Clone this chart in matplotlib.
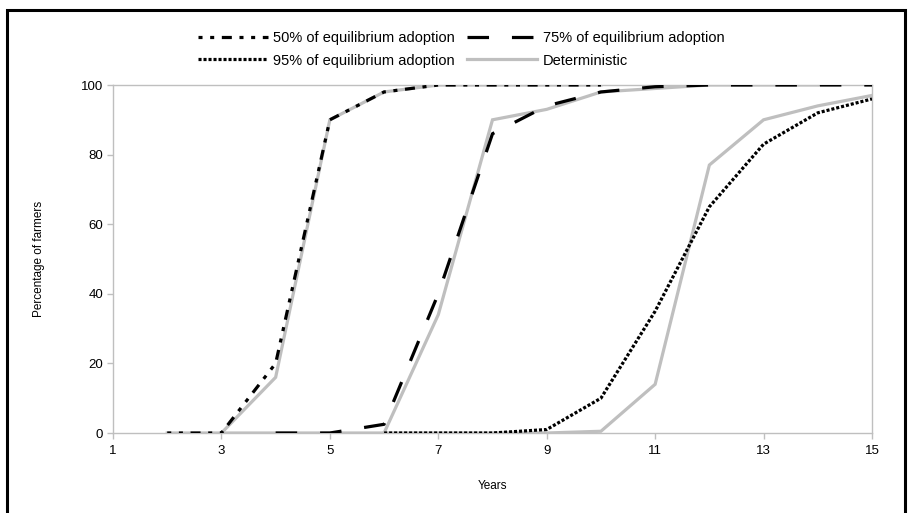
import matplotlib
matplotlib.use("Agg")
import matplotlib.pyplot as plt
from matplotlib.patches import Rectangle

plt.rcParams['font.family'] = ['Liberation Sans', 'DejaVu Sans']
plt.rcParams['lines.scale_dashes'] = False

# Data
years_50 = [2, 3, 4, 5, 6, 7, 8, 9, 10]
adopt_50 = [0, 0, 20, 90, 98, 100, 100, 100, 100]

years_75 = [4, 5, 6, 7, 8, 9, 10, 11, 12, 13, 14, 15]
adopt_75 = [0, 0, 2.5, 40, 86, 94, 98, 99.5, 100, 100, 100, 100]

years_95 = [6, 7, 8, 9, 10, 11, 12, 13, 14, 15]
adopt_95 = [0, 0, 0, 1, 10, 35, 65, 83, 92, 96]

det_years_1 = [2, 3, 4, 5, 6, 7, 8, 9, 10]
det_vals_1 = [0, 0, 16, 90, 98, 100, 100, 100, 100]
det_years_2 = [3, 4, 5, 6, 7, 8, 9, 10, 11, 12, 13, 14]
det_vals_2 = [0, 0, 0, 0, 34, 90, 93, 98, 99, 100, 100, 100]
det_years_3 = [6, 7, 8, 9, 10, 11, 12, 13, 14, 15]
det_vals_3 = [0, 0, 0, 0, 0.5, 14, 77, 90, 94, 97]

xticks = [1, 3, 5, 7, 9, 11, 13, 15]
yticks = [0, 20, 40, 60, 80, 100]

W, H = 909, 513
fig = plt.figure(figsize=(W / 100, H / 100), dpi=100)
ax = fig.add_axes([113 / W, (H - 433) / H, (872 - 113) / W, (433 - 85) / H])

gray = '#BFBFBF'
lw = 2.3
ax.plot(det_years_1, det_vals_1, color=gray, lw=lw, zorder=2, label='Deterministic', solid_joinstyle='miter')
ax.plot(det_years_2, det_vals_2, color=gray, lw=lw, zorder=2, solid_joinstyle='miter')
ax.plot(det_years_3, det_vals_3, color=gray, lw=lw, zorder=2, solid_joinstyle='miter')

l50, = ax.plot(years_50, adopt_50, color='black', lw=lw, zorder=3,
               label='50% of equilibrium adoption')
l50.set_dashes([2.9, 5.5, 2.9, 5.5, 7.2, 5.5])
l75, = ax.plot(years_75, adopt_75, color='black', lw=lw, zorder=3,
               label='75% of equilibrium adoption')
l75.set_dashes([15.5, 16.5])
l95, = ax.plot(years_95, adopt_95, color='black', lw=lw, zorder=3,
               label='95% of equilibrium adoption')
l95.set_dashes([2.2, 1.4])

ax.set_xlim(1, 15)
ax.set_ylim(0, 100)
ax.set_xticks(xticks)
ax.set_yticks(yticks)
for s in ax.spines.values():
    s.set_color(gray)
    s.set_linewidth(1.0)
ax.tick_params(axis='both', colors=gray, labelcolor='black', labelsize=9.5,
               length=4, width=1.0, direction='out')
ax.tick_params(axis='x', pad=5)
ax.tick_params(axis='y', pad=3)
ax.set_xlabel('Years', fontsize=8.5)
ax.xaxis.set_label_coords(0.5, -0.135)
ax.set_ylabel('Percentage of farmers', fontsize=8.5)
ax.yaxis.set_label_coords(-0.089, 0.5)

handles = [l50, l95, l75, ax.get_lines()[0]]
labels = [h.get_label() for h in handles]
fig.legend(handles, labels, ncol=2, loc='center', bbox_to_anchor=(461 / W, 1 - 49.5 / H),
           frameon=False, fontsize=10.5, handlelength=4.8, handletextpad=0.4,
           columnspacing=0.8, labelspacing=0.55)

rect = Rectangle((7 / W, -0.2), (905 - 7) / W, 1.2 - 10 / H, transform=fig.transFigure,
                 fill=False, edgecolor='black', lw=2.2, clip_on=False)
fig.patches.append(rect)

fig.savefig('out.png', dpi=100)
